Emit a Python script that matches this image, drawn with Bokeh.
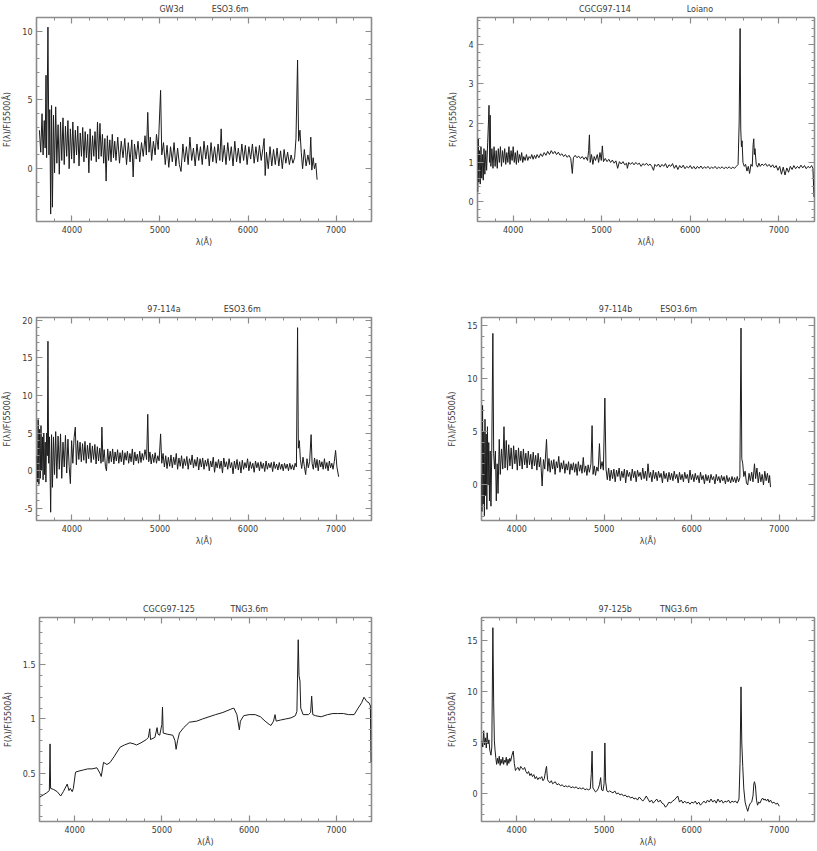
from bokeh.plotting import figure
from bokeh.layouts import column, row
from bokeh.models import (LinearAxis, SingleIntervalTicker, CustomJSTickFormatter,
                          Range1d, GlobalInlineStyleSheet, CustomLabelingPolicy)
from bokeh.embed import file_html
from bokeh.resources import INLINE

# ---------------- data ----------------
titles_name = ["GW3d", "CGCG97-114", "97-114a", "97-114b", "CGCG97-125", "97-125b"]
titles_tel = ["ESO3.6m", "Loiano", "ESO3.6m", "ESO3.6m", "TNG3.6m", "TNG3.6m"]
x_label = "λ(Å)"
y_label = "F(λ)/F(5500Å)"

gw3d_wl = [3630, 3645, 3660, 3672, 3685, 3695, 3705, 3712, 3727, 3738, 3748, 3758, 3768, 3778, 3790, 3802,
           3815, 3828, 3842, 3856, 3870, 3884, 3898, 3912, 3926, 3940, 3954, 3968, 3982, 3996, 4010, 4024,
           4038, 4052, 4066, 4080, 4094, 4108, 4122, 4136, 4150, 4164, 4178, 4192, 4206, 4220, 4234, 4248,
           4262, 4276, 4290, 4304, 4318, 4332, 4346, 4360, 4374, 4388, 4402, 4416, 4430, 4444, 4458, 4472,
           4486, 4500, 4520, 4540, 4560, 4580, 4600, 4620, 4640, 4660, 4680, 4695, 4710, 4730, 4750, 4770,
           4790, 4810, 4830, 4845, 4861, 4875, 4890, 4905, 4925, 4945, 4960, 4980, 5007, 5020, 5040, 5060,
           5080, 5100, 5120, 5140, 5160, 5180, 5200, 5220, 5239, 5260, 5280, 5300, 5320, 5340, 5360, 5380,
           5400, 5420, 5440, 5460, 5480, 5500, 5520, 5540, 5560, 5580, 5600, 5620, 5640, 5660, 5680, 5695,
           5710, 5730, 5750, 5770, 5790, 5810, 5830, 5850, 5870, 5890, 5910, 5930, 5950, 5970, 5990, 6010,
           6030, 6050, 6070, 6090, 6110, 6130, 6150, 6170, 6183, 6195, 6210, 6230, 6250, 6270, 6290, 6310,
           6330, 6350, 6370, 6390, 6410, 6430, 6450, 6470, 6490, 6510, 6530, 6545, 6563, 6575, 6590, 6605,
           6620, 6640, 6660, 6680, 6700, 6713, 6725, 6740, 6755, 6770, 6785]
gw3d_flux = [2.8, 1.2, 4.0, 1.0, 3.5, 1.5, 6.8, 0.8, 10.3, 1.0, 4.3, -3.3, 4.6, -2.8, 3.9, -0.3,
             4.5, 0.4, 3.2, -0.4, 3.4, 0.6, 3.7, 0.3, 3.1, 0.9, 3.5, 0.0, 2.9, 0.7, 3.4, 0.4,
             2.8, 1.0, 3.1, 0.2, 2.6, 0.9, 3.0, 0.5, 2.7, 0.8, 2.5, -0.3, 2.9, 0.6, 2.4, 0.9,
             2.7, 0.5, 3.4, 0.7, 3.3, 0.9, 2.5, 0.4, 2.2, -0.9, 2.4, 0.6, 2.1, 0.5, 2.5, 0.8,
             2.0, 0.6, 2.3, 0.4, 2.0, 0.8, 2.2, 0.3, 1.9, 0.5, 2.1, -0.6, 1.8, 0.7, 2.0, 0.5,
             1.9, 0.9, 2.4, 1.0, 4.1, 1.2, 2.3, 0.6, 2.0, 1.0, 2.5, 1.4, 5.7, 1.0, 1.9, 0.3,
             1.7, 0.1, 1.6, 0.5, 1.9, 0.2, 1.5, 0.3, -0.2, 1.8, 0.5, 1.6, 0.3, 2.3, 0.6, 1.5,
             0.2, 1.8, 0.6, 1.6, 0.3, 2.0, 0.7, 1.7, 0.2, 1.9, 0.5, 1.6, 0.4, 1.8, 0.6, 2.9,
             0.5, 1.7, 0.3, 1.9, 0.6, 1.6, 0.2, 2.0, 0.5, 1.5, 0.4, 1.8, 0.6, 1.7, 0.3, 1.6,
             0.7, 1.8, 0.4, 1.6, 0.5, 1.7, 0.6, 1.5, 2.2, -0.5, 1.2, 0.0, 1.6, 0.2, 1.4, 0.3,
             1.5, 0.2, 1.3, 0.0, 1.4, 0.4, 1.2, 0.3, 1.0, 0.4, 0.8, 2.2, 7.9, 2.0, 2.8, 1.2,
             0.0, 1.4, 0.2, 1.0, 0.3, 2.3, -0.1, 0.8, 0.0, 0.4, -0.8]

c114_wl = [3600, 3605, 3612, 3620, 3628, 3636, 3645, 3654, 3662, 3670, 3680, 3690, 3700, 3712, 3722, 3727,
           3734, 3740, 3748, 3760, 3772, 3784, 3796, 3808, 3820, 3832, 3844, 3856, 3868, 3880, 3892, 3904,
           3916, 3928, 3940, 3952, 3964, 3976, 3988, 4000, 4012, 4024, 4036, 4048, 4060, 4072, 4084, 4096,
           4108, 4120, 4135, 4150, 4165, 4180, 4195, 4210, 4225, 4240, 4255, 4270, 4290, 4310, 4330, 4350,
           4370, 4390, 4410, 4430, 4450, 4470, 4490, 4510, 4530, 4550, 4570, 4590, 4610, 4630, 4650, 4668,
           4680, 4700, 4720, 4740, 4760, 4780, 4800, 4820, 4840, 4852, 4861, 4870, 4885, 4900, 4915, 4930,
           4950, 4965, 4980, 4995, 5007, 5020, 5040, 5060, 5080, 5100, 5120, 5140, 5160, 5180, 5200, 5220,
           5240, 5260, 5280, 5290, 5305, 5325, 5345, 5365, 5385, 5405, 5425, 5445, 5465, 5485, 5505, 5525,
           5545, 5565, 5585, 5600, 5620, 5640, 5660, 5680, 5700, 5720, 5740, 5760, 5780, 5800, 5820, 5840,
           5860, 5880, 5900, 5920, 5940, 5960, 5980, 6000, 6020, 6040, 6060, 6080, 6100, 6120, 6140, 6160,
           6180, 6200, 6220, 6240, 6260, 6280, 6300, 6320, 6340, 6360, 6380, 6400, 6420, 6440, 6460, 6480,
           6500, 6520, 6540, 6552, 6563, 6570, 6578, 6585, 6595, 6610, 6625, 6640, 6655, 6670, 6685, 6700,
           6710, 6717, 6724, 6731, 6745, 6760, 6775, 6790, 6810, 6830, 6850, 6870, 6890, 6910, 6930, 6950,
           6970, 6990, 7010, 7030, 7050, 7070, 7090, 7110, 7130, 7150, 7170, 7190, 7210, 7230, 7250, 7270,
           7290, 7310, 7330, 7350, 7370, 7385, 7398]
c114_flux = [0.25, 1.6, 0.5, 1.3, 0.45, 1.4, 0.6, 1.2, 0.55, 1.35, 0.7, 1.3, 0.8, 1.5, 2.1, 2.45,
             1.0, 2.2, 0.9, 1.35, 0.85, 1.4, 0.9, 1.3, 0.85, 1.35, 1.0, 1.4, 0.9, 1.3, 1.0, 1.35,
             0.95, 1.25, 1.0, 1.4, 0.95, 1.3, 1.05, 1.4, 1.0, 1.25, 0.95, 1.3, 1.0, 1.2, 1.05, 1.25,
             1.0, 1.15, 1.05, 1.2, 1.05, 1.15, 1.1, 1.2, 1.08, 1.18, 1.1, 1.2, 1.12, 1.22, 1.15, 1.25,
             1.18, 1.28, 1.2, 1.3, 1.22, 1.28, 1.2, 1.26, 1.18, 1.22, 1.15, 1.2, 1.13, 1.18, 1.1, 0.72,
             1.12, 1.18, 1.12, 1.16, 1.1, 1.15, 1.08, 1.14, 1.05, 1.3, 1.7, 1.0, 1.2, 0.95, 1.15, 1.05,
             1.2, 1.0, 1.25, 1.05, 1.42, 1.02, 1.1, 1.02, 1.08, 1.0, 1.06, 0.98, 1.04, 0.85, 1.02, 0.96,
             1.02, 0.94, 0.98, 0.85, 1.0, 0.95, 1.0, 0.94, 1.0, 0.95, 0.98, 0.9, 0.97, 0.93, 0.98, 0.92,
             0.96, 0.9, 0.8, 0.95, 0.9, 0.96, 0.88, 0.95, 0.9, 0.97, 0.86, 0.94, 0.9, 0.97, 0.85, 0.93,
             0.82, 0.92, 0.86, 0.93, 0.84, 0.9, 0.86, 0.92, 0.84, 0.9, 0.83, 0.9, 0.85, 0.91, 0.84, 0.89,
             0.85, 0.9, 0.84, 0.88, 0.85, 0.9, 0.84, 0.88, 0.85, 0.89, 0.84, 0.88, 0.85, 0.89, 0.84, 0.88,
             0.85, 0.9, 0.95, 2.0, 4.4, 1.85, 1.4, 1.55, 1.0, 0.9, 0.95, 0.78, 0.9, 0.72, 0.95, 0.9,
             1.45, 1.6, 1.2, 1.35, 0.95, 0.88, 0.98, 0.9, 0.96, 0.92, 0.97, 0.9, 0.95, 0.88, 0.94, 0.86,
             0.92, 0.8, 0.9, 0.7, 0.88, 0.68, 0.86, 0.75, 0.9, 0.82, 0.92, 0.84, 0.9, 0.85, 0.93, 0.86,
             0.92, 0.84, 0.9, 0.86, 0.92, 0.85, 0.12]

a114_wl = [3600, 3608, 3616, 3624, 3632, 3640, 3648, 3656, 3664, 3672, 3680, 3688, 3696, 3704, 3712, 3720,
           3727, 3735, 3745, 3758, 3768, 3778, 3790, 3802, 3815, 3828, 3842, 3856, 3870, 3884, 3898, 3912,
           3926, 3940, 3954, 3968, 3982, 3996, 4010, 4024, 4038, 4050, 4064, 4078, 4092, 4106, 4120, 4134,
           4148, 4162, 4176, 4190, 4204, 4218, 4232, 4246, 4260, 4274, 4288, 4302, 4316, 4330, 4340, 4352,
           4366, 4380, 4392, 4406, 4420, 4434, 4448, 4462, 4476, 4490, 4504, 4518, 4532, 4546, 4560, 4574,
           4588, 4602, 4616, 4630, 4644, 4658, 4672, 4686, 4700, 4714, 4728, 4742, 4756, 4770, 4784, 4798,
           4812, 4830, 4848, 4861, 4872, 4886, 4900, 4915, 4930, 4945, 4960, 4975, 4990, 5007, 5020, 5035,
           5050, 5065, 5080, 5095, 5110, 5125, 5140, 5155, 5170, 5185, 5200, 5215, 5230, 5245, 5260, 5275,
           5290, 5305, 5320, 5335, 5350, 5365, 5380, 5395, 5410, 5425, 5440, 5455, 5470, 5485, 5500, 5515,
           5530, 5545, 5560, 5575, 5590, 5605, 5620, 5635, 5650, 5665, 5680, 5695, 5710, 5725, 5740, 5755,
           5770, 5785, 5800, 5815, 5830, 5845, 5860, 5875, 5890, 5905, 5920, 5935, 5950, 5965, 5980, 5995,
           6010, 6025, 6040, 6055, 6070, 6085, 6100, 6115, 6130, 6145, 6160, 6175, 6190, 6205, 6220, 6235,
           6250, 6265, 6280, 6295, 6310, 6325, 6340, 6355, 6370, 6385, 6400, 6415, 6430, 6445, 6460, 6475,
           6490, 6505, 6520, 6535, 6550, 6563, 6572, 6583, 6595, 6610, 6625, 6640, 6655, 6670, 6685, 6700,
           6717, 6728, 6742, 6756, 6770, 6784, 6798, 6812, 6826, 6840, 6854, 6868, 6882, 6896, 6910, 6924,
           6938, 6952, 6966, 6980, 6995, 7010, 7030]
a114_flux = [2.0, -1.5, 6.8, -1.8, 5.5, -1.0, 6.0, 0.0, 4.5, -1.2, 5.0, -0.5, 3.8, -1.5, 5.0, 2.0,
             17.2, 1.0, 4.5, -5.5, 4.8, -2.2, 4.5, -0.5, 5.2, -1.0, 4.6, 0.2, 4.9, -1.0, 3.8, 0.5,
             4.7, -0.3, 4.2, 0.6, -1.7, 4.0, 1.0, 4.4, 5.8, 0.8, 4.0, 1.5, 3.8, 1.2, 3.6, 1.4,
             3.9, 1.0, 3.4, 1.6, 3.7, 1.1, 3.3, 1.5, 3.5, 0.9, 3.2, 1.3, 3.0, 1.0, 5.8, 1.2,
             2.8, 0.6, 0.0, 2.9, 1.0, 2.6, 1.2, 2.9, 0.9, 2.5, 1.3, 2.8, 1.0, 2.4, 1.2, 2.7,
             0.8, 2.4, 1.4, 2.6, 1.0, 2.3, 1.2, 2.9, 0.8, 2.5, 1.3, 2.2, 1.0, 2.6, 1.1, 2.3,
             1.4, 2.8, 1.5, 7.5, 1.2, 2.5, 0.9, 2.2, 1.1, 2.4, 1.0, 2.0, 1.3, 4.9, 1.0, 2.3,
             0.5, 2.0, 0.3, 1.8, 0.6, 2.1, 0.4, 1.8, 0.8, 2.3, 0.2, 1.7, 0.6, 2.0, 0.3, 1.6,
             0.7, 1.9, 0.2, 1.6, 0.8, 2.1, 0.4, 1.5, 0.6, 1.8, 0.1, 1.6, 0.5, 1.7, 0.2, 1.4,
             0.6, 1.6, 0.0, 1.3, 0.5, 1.8, -0.2, 1.2, 0.4, 1.5, 0.3, 1.3, -0.3, 1.7, 0.5, 1.2,
             0.2, 1.6, 0.4, 1.1, -0.4, 1.3, 0.3, 1.5, 0.1, 1.2, -0.3, 1.4, 0.2, 1.1, 0.4, 1.6,
             0.0, 1.2, 0.3, 1.0, -0.2, 1.3, 0.4, 1.1, 0.0, 1.2, 0.3, 1.0, -0.1, 1.3, 0.2, 1.0,
             0.4, 1.1, -0.1, 1.2, 0.3, 0.9, 0.1, 1.1, 0.2, 0.9, 0.0, 1.0, 0.3, 0.9, 0.0, 1.0,
             0.2, 0.8, 0.1, 1.0, 0.5, 19.0, 3.0, 4.0, 1.5, 0.3, 1.8, 0.6, -0.5, 1.6, 0.4, 1.2,
             4.8, 1.0, 0.2, 1.7, 0.4, 1.5, 0.0, 1.4, 0.5, 1.2, 0.2, 1.6, 0.3, 1.1, 0.0, 1.3,
             0.4, 1.0, 0.2, 1.2, 2.7, 0.5, -0.8]

b114_wl = [3595, 3602, 3609, 3616, 3623, 3630, 3637, 3644, 3651, 3658, 3665, 3672, 3680, 3688, 3696, 3705,
           3714, 3727, 3736, 3746, 3756, 3766, 3776, 3786, 3800, 3812, 3826, 3840, 3854, 3866, 3880, 3894,
           3908, 3922, 3936, 3950, 3964, 3978, 3992, 4006, 4020, 4034, 4048, 4062, 4076, 4090, 4104, 4118,
           4132, 4146, 4160, 4174, 4188, 4202, 4216, 4230, 4244, 4258, 4272, 4290, 4305, 4320, 4340, 4354,
           4368, 4382, 4396, 4410, 4424, 4438, 4452, 4466, 4480, 4494, 4508, 4522, 4536, 4550, 4564, 4578,
           4592, 4606, 4620, 4634, 4648, 4662, 4676, 4690, 4704, 4718, 4732, 4746, 4760, 4774, 4788, 4802,
           4816, 4830, 4848, 4861, 4872, 4886, 4900, 4915, 4930, 4945, 4958, 4975, 4990, 5007, 5020, 5035,
           5050, 5065, 5080, 5095, 5110, 5125, 5140, 5155, 5170, 5185, 5200, 5215, 5230, 5245, 5260, 5275,
           5290, 5305, 5320, 5335, 5350, 5365, 5380, 5395, 5410, 5425, 5440, 5455, 5470, 5485, 5500, 5515,
           5530, 5545, 5560, 5575, 5590, 5605, 5620, 5635, 5650, 5665, 5680, 5695, 5710, 5725, 5740, 5755,
           5770, 5785, 5800, 5815, 5830, 5845, 5860, 5875, 5890, 5905, 5920, 5935, 5950, 5965, 5980, 5995,
           6010, 6025, 6040, 6055, 6070, 6085, 6100, 6115, 6130, 6145, 6160, 6175, 6190, 6205, 6220, 6235,
           6250, 6265, 6280, 6295, 6310, 6325, 6340, 6355, 6370, 6385, 6400, 6415, 6430, 6445, 6460, 6475,
           6490, 6505, 6520, 6535, 6550, 6563, 6572, 6583, 6595, 6610, 6625, 6640, 6655, 6670, 6685, 6700,
           6717, 6730, 6745, 6760, 6775, 6790, 6805, 6820, 6835, 6850, 6865, 6880, 6890, 6900]
b114_flux = [1.0, -2.5, 7.5, -1.8, 5.0, -2.9, 6.2, -1.0, 4.8, -2.3, 5.5, 0.0, 4.0, -1.5, 3.2, -2.0,
             3.0, 14.3, 3.0, 1.5, 3.2, -1.5, 2.0, -0.8, 4.3, 1.0, 3.4, 1.5, 5.5, 1.6, 4.2, 1.4,
             3.8, 1.8, 3.5, 1.5, 3.7, 2.0, 3.3, 1.4, 3.5, 1.8, 3.2, 1.5, 3.4, 1.9, 3.0, 1.6,
             3.2, 1.9, 2.9, 1.5, 3.1, 1.8, 2.8, 1.4, 3.0, 1.7, 2.6, -0.1, 2.4, 1.5, 4.3, 1.3,
             2.5, 1.2, 2.3, 1.5, 2.4, 1.0, 2.2, 1.6, 2.7, 1.2, 2.1, 1.5, 2.3, 1.1, 2.0, 1.4,
             2.2, 1.0, 2.0, 1.4, 2.1, 1.2, 2.0, 0.9, 2.2, 1.3, 1.9, 1.1, 2.6, 1.2, 1.8, 0.9,
             1.9, 1.2, 2.0, 5.6, 1.0, 1.8, 0.9, 1.7, 1.3, 3.9, 1.5, 2.2, 1.4, 8.2, 1.5, 0.5,
             1.6, 0.4, 1.4, 0.6, 1.5, 0.3, 1.4, 0.8, 1.6, 0.4, 1.3, 0.7, 1.5, 0.2, 1.4, 0.8,
             1.2, 0.4, 1.5, 0.7, 1.3, 0.3, 1.4, 0.8, 1.2, 0.5, 1.6, 0.6, 1.3, 0.4, 2.0, 0.7,
             1.2, 0.3, 1.4, 0.6, 1.2, 0.4, 1.3, 0.7, 1.1, 0.2, 1.3, 0.6, 1.1, 0.3, 1.2, 0.5,
             1.1, 0.4, 1.3, 0.6, 1.0, 0.2, 1.2, 0.5, 1.0, 0.3, 1.2, 0.6, 1.0, 0.2, 1.4, 0.5,
             1.0, 0.3, 1.1, 0.5, 0.9, 0.2, 1.2, 0.5, 0.9, 0.1, 1.0, 0.4, 0.9, 0.2, 1.0, 0.5,
             0.8, 0.1, 1.0, 0.4, 0.8, 0.2, 0.9, 0.4, 0.8, 0.1, 0.9, 0.3, 0.7, 0.2, 0.8, 0.3,
             0.7, 0.2, 0.8, 0.3, 0.7, 14.8, 2.5, 2.0, 0.8, 1.3, 0.2, 0.0, 1.1, 0.4, 1.2, 0.3,
             2.0, 0.6, 1.6, 0.2, 1.2, 0.3, 1.0, 0.0, 1.3, 0.4, 1.1, 0.2, 0.9, -0.2]

c125_wl = [3600, 3640, 3680, 3710, 3718, 3724, 3760, 3800, 3840, 3870, 3915, 3935, 3950, 3972, 3985, 4010,
           4050, 4100, 4150, 4200, 4255, 4290, 4305, 4331, 4370, 4407, 4450, 4521, 4570, 4634, 4680, 4709,
           4760, 4822, 4845, 4861, 4870, 4920, 4945, 4955, 4975, 5000, 5007, 5015, 5060, 5125, 5150, 5163,
           5180, 5201, 5250, 5315, 5400, 5466, 5540, 5616, 5700, 5790, 5825, 5860, 5888, 5900, 5938, 6000,
           6070, 6130, 6183, 6230, 6251, 6280, 6297, 6310, 6360, 6420, 6480, 6530, 6548, 6563, 6572, 6583,
           6592, 6619, 6680, 6705, 6717, 6730, 6760, 6826, 6900, 6960, 7016, 7080, 7140, 7204, 7250, 7290,
           7317, 7350, 7374, 7390, 7398]
c125_flux = [0.28, 0.30, 0.32, 0.34, 0.77, 0.36, 0.35, 0.33, 0.29, 0.33, 0.40, 0.34, 0.36, 0.33, 0.36, 0.51,
             0.52, 0.53, 0.54, 0.54, 0.55, 0.50, 0.47, 0.60, 0.58, 0.60, 0.65, 0.74, 0.76, 0.78, 0.77, 0.76,
             0.78, 0.81, 0.83, 0.91, 0.81, 0.83, 0.92, 0.86, 0.85, 0.95, 1.11, 0.87, 0.86, 0.85, 0.80, 0.72,
             0.80, 0.87, 0.92, 0.97, 0.98, 1.00, 1.02, 1.04, 1.06, 1.09, 1.10, 1.04, 0.90, 0.98, 1.03, 1.04,
             1.04, 1.02, 0.98, 0.95, 0.94, 0.98, 1.04, 0.98, 0.99, 1.00, 1.01, 1.03, 1.07, 1.73, 1.40, 1.35,
             1.10, 1.04, 1.04, 1.06, 1.21, 1.04, 1.03, 1.02, 1.04, 1.05, 1.05, 1.05, 1.04, 1.04, 1.10, 1.15,
             1.20, 1.16, 1.15, 1.12, 0.60]

b125_wl = [3600, 3612, 3622, 3632, 3642, 3652, 3662, 3672, 3682, 3692, 3705, 3715, 3727, 3736, 3744, 3752,
           3760, 3770, 3780, 3790, 3800, 3810, 3820, 3830, 3840, 3850, 3860, 3870, 3880, 3890, 3900, 3910,
           3920, 3930, 3945, 3960, 3972, 3985, 4000, 4015, 4030, 4045, 4060, 4075, 4090, 4105, 4120, 4135,
           4150, 4165, 4180, 4195, 4210, 4225, 4240, 4255, 4270, 4285, 4300, 4315, 4330, 4340, 4352, 4365,
           4380, 4395, 4410, 4425, 4440, 4460, 4480, 4500, 4520, 4540, 4560, 4580, 4600, 4620, 4640, 4660,
           4680, 4700, 4720, 4740, 4760, 4780, 4800, 4820, 4840, 4852, 4861, 4870, 4885, 4900, 4915, 4930,
           4945, 4959, 4970, 4985, 4998, 5007, 5016, 5030, 5045, 5060, 5080, 5100, 5120, 5140, 5160, 5180,
           5200, 5220, 5240, 5260, 5280, 5300, 5320, 5340, 5360, 5380, 5400, 5420, 5440, 5460, 5480, 5500,
           5520, 5540, 5560, 5580, 5600, 5620, 5640, 5660, 5680, 5700, 5720, 5740, 5760, 5780, 5800, 5820,
           5840, 5860, 5880, 5900, 5920, 5940, 5960, 5980, 6000, 6020, 6040, 6060, 6080, 6100, 6120, 6140,
           6160, 6180, 6200, 6220, 6240, 6260, 6280, 6300, 6320, 6340, 6360, 6380, 6400, 6420, 6440, 6460,
           6480, 6500, 6520, 6540, 6552, 6563, 6572, 6583, 6595, 6610, 6625, 6640, 6655, 6670, 6685, 6700,
           6710, 6717, 6728, 6740, 6752, 6765, 6780, 6795, 6810, 6825, 6840, 6855, 6870, 6885, 6900, 6920,
           6940, 6960, 6980, 7000]
b125_flux = [5.2, 4.6, 6.2, 4.8, 5.5, 4.5, 6.0, 4.9, 5.3, 4.3, 3.8, 4.6, 16.3, 9.0, 5.2, 4.3,
             3.6, 2.9, 3.5, 3.0, 3.7, 2.8, 3.4, 3.0, 3.6, 2.9, 3.3, 3.1, 3.6, 2.8, 3.4, 3.0,
             3.5, 3.2, 3.8, 4.2, 3.0, 2.3, 2.5, 2.6, 2.3, 2.7, 2.5, 2.4, 2.6, 2.2, 2.0, 2.2,
             1.8, 2.0, 1.7, 1.9, 1.5, 1.7, 1.4, 1.6, 1.5, 1.7, 1.3, 1.5, 2.3, 2.7, 1.4, 1.2,
             1.1, 1.3, 1.0, 1.1, 1.2, 0.9, 1.0, 0.8, 0.9, 0.7, 0.8, 0.7, 0.8, 0.6, 0.7, 0.6,
             0.7, 0.5, 0.6, 0.5, 0.6, 0.4, 0.5, 0.4, 0.5, 2.0, 4.2, 0.6, 0.4, 0.2, 0.3, 0.5,
             0.9, 1.6, 0.4, 0.3, 1.0, 5.0, 1.2, 0.3, 0.2, 0.3, 0.2, 0.1, 0.3, 0.0, 0.1, -0.1,
             0.0, -0.2, -0.1, -0.3, -0.2, -0.4, -0.3, -0.5, -0.4, -0.6, -0.3, -0.5, -0.7, -0.5, -0.2, -0.5,
             -0.8, -0.6, -0.9, -0.7, -0.5, -0.8, -0.6, -0.9, -1.0, -1.3, -1.1, -0.8, -0.9, -0.7, -0.6, -0.4,
             -0.2, -0.8, -0.6, -0.9, -0.7, -0.9, -0.8, -1.0, -0.8, -0.9, -0.7, -1.0, -0.8, -1.1, -0.9, -0.7,
             -0.9, -0.6, -0.8, -0.5, -0.8, -0.6, -0.9, -0.5, -0.8, -0.6, -0.9, -0.7, -0.8, -0.6, -0.9, -0.7,
             -0.8, -0.7, -0.9, -0.5, 3.0, 10.5, 5.0, 2.7, 0.5, -0.8, -1.3, -1.7, -1.2, -0.9, -0.8, -0.2,
             1.0, 1.2, 0.8, -0.6, -1.1, -0.8, -0.9, -0.6, -0.4, -0.6, -0.5, -0.7, -0.5, -0.8, -0.6, -0.9,
             -0.8, -1.0, -0.9, -1.2]

x_limits = [3597, 7403]
y_limits = [(-3.84, 11.0), (-0.5, 4.68), (-6.6, 20.35), (-3.35, 15.8), (0.055, 1.935), (-2.7, 17.3)]
y_intervals = [5, 1, 5, 5, 0.5, 5]
x_interval = 1000
title_gaps = [11, 22, 17, 11, 14, 11]

series = [(gw3d_wl, gw3d_flux), (c114_wl, c114_flux), (a114_wl, a114_flux),
          (b114_wl, b114_flux), (c125_wl, c125_flux), (b125_wl, b125_flux)]

# ---------------- layout (pixels) ----------------
# (fig width, fig height, frame left, frame top, frame width, frame height)
geom = [(404, 300, 35, 15, 336, 206), (412, 300, 73, 17, 337, 205),
        (404, 300, 35, 15, 336, 205), (412, 300, 77, 17, 333, 206),
        (404, 251, 35, 16, 336, 205), (412, 251, 77, 17, 333, 207)]

FONT = "DejaVu Sans"
TXT = "#3a3a3a"
AXC = "#8c8c8c"
fmt_code = "return String(Math.round(tick*100)/100);"
no_labels = CustomLabelingPolicy(code="for (const i of indices) { indices.unset(i) } return indices")


def style_axis(ax, show_labels, label=None):
    ax.axis_line_color = None
    ax.major_tick_in = 6
    ax.major_tick_out = 0
    ax.minor_tick_in = 3
    ax.minor_tick_out = 0
    ax.major_tick_line_color = AXC
    ax.minor_tick_line_color = AXC
    ax.major_tick_line_width = 1.2
    ax.minor_tick_line_width = 1
    if show_labels:
        ax.major_label_text_font = FONT
        ax.major_label_text_font_size = "8px"
        ax.major_label_text_color = TXT
        ax.major_label_standoff = 4
        ax.formatter = CustomJSTickFormatter(code=fmt_code)
        if label is not None:
            ax.axis_label = label
            ax.axis_label_text_font = FONT
            ax.axis_label_text_font_size = "8px"
            ax.axis_label_text_font_style = "normal"
            ax.axis_label_text_color = TXT
    else:
        ax.major_label_text_font_size = "0px"
        ax.major_label_standoff = 0
        ax.major_label_policy = no_labels


figs = []
for i in range(6):
    fw, fh, fl, ft, frw, frh = geom[i]
    wl, fl_data = series[i]
    ymin, ymax = y_limits[i]
    gap = "\u00a0" * title_gaps[i]
    p = figure(width=fw, height=fh, output_backend="svg", toolbar_location=None,
               x_range=Range1d(x_limits[0], x_limits[1]), y_range=Range1d(ymin, ymax),
               min_border_left=fl, min_border_top=ft,
               min_border_right=fw - fl - frw, min_border_bottom=fh - ft - frh,
               title=titles_name[i] + gap + titles_tel[i])
    p.title.align = "center"
    p.title.vertical_align = "top"
    p.title.text_font = FONT
    p.title.text_font_size = "8px"
    p.title.text_font_style = "normal"
    p.title.text_color = TXT
    p.title.standoff = 3
    p.xgrid.visible = False
    p.ygrid.visible = False
    p.outline_line_color = AXC
    p.outline_line_width = 1.6
    p.background_fill_color = "white"
    p.border_fill_color = "white"

    p.xaxis[0].ticker = SingleIntervalTicker(interval=x_interval, num_minor_ticks=5)
    p.yaxis[0].ticker = SingleIntervalTicker(interval=y_intervals[i], num_minor_ticks=5)
    style_axis(p.xaxis[0], True, x_label)
    style_axis(p.yaxis[0], True, y_label)
    p.xaxis[0].axis_label_standoff = 2
    p.yaxis[0].axis_label_standoff = 7

    top = LinearAxis(ticker=SingleIntervalTicker(interval=x_interval, num_minor_ticks=5))
    style_axis(top, False)
    p.add_layout(top, "above")
    right = LinearAxis(ticker=SingleIntervalTicker(interval=y_intervals[i], num_minor_ticks=5))
    style_axis(right, False)
    p.add_layout(right, "right")

    p.line(wl, fl_data, line_color="#1c1c1c", line_width=1.0)
    figs.append(p)

layout = column(row(figs[0], figs[1], spacing=0),
                row(figs[2], figs[3], spacing=0),
                row(figs[4], figs[5], spacing=0), spacing=0)
layout.stylesheets = [GlobalInlineStyleSheet(
    css="html, body { margin: 0; padding: 0; overflow: hidden; background: white; }")]

open("out.html", "w").write(file_html(layout, INLINE))
